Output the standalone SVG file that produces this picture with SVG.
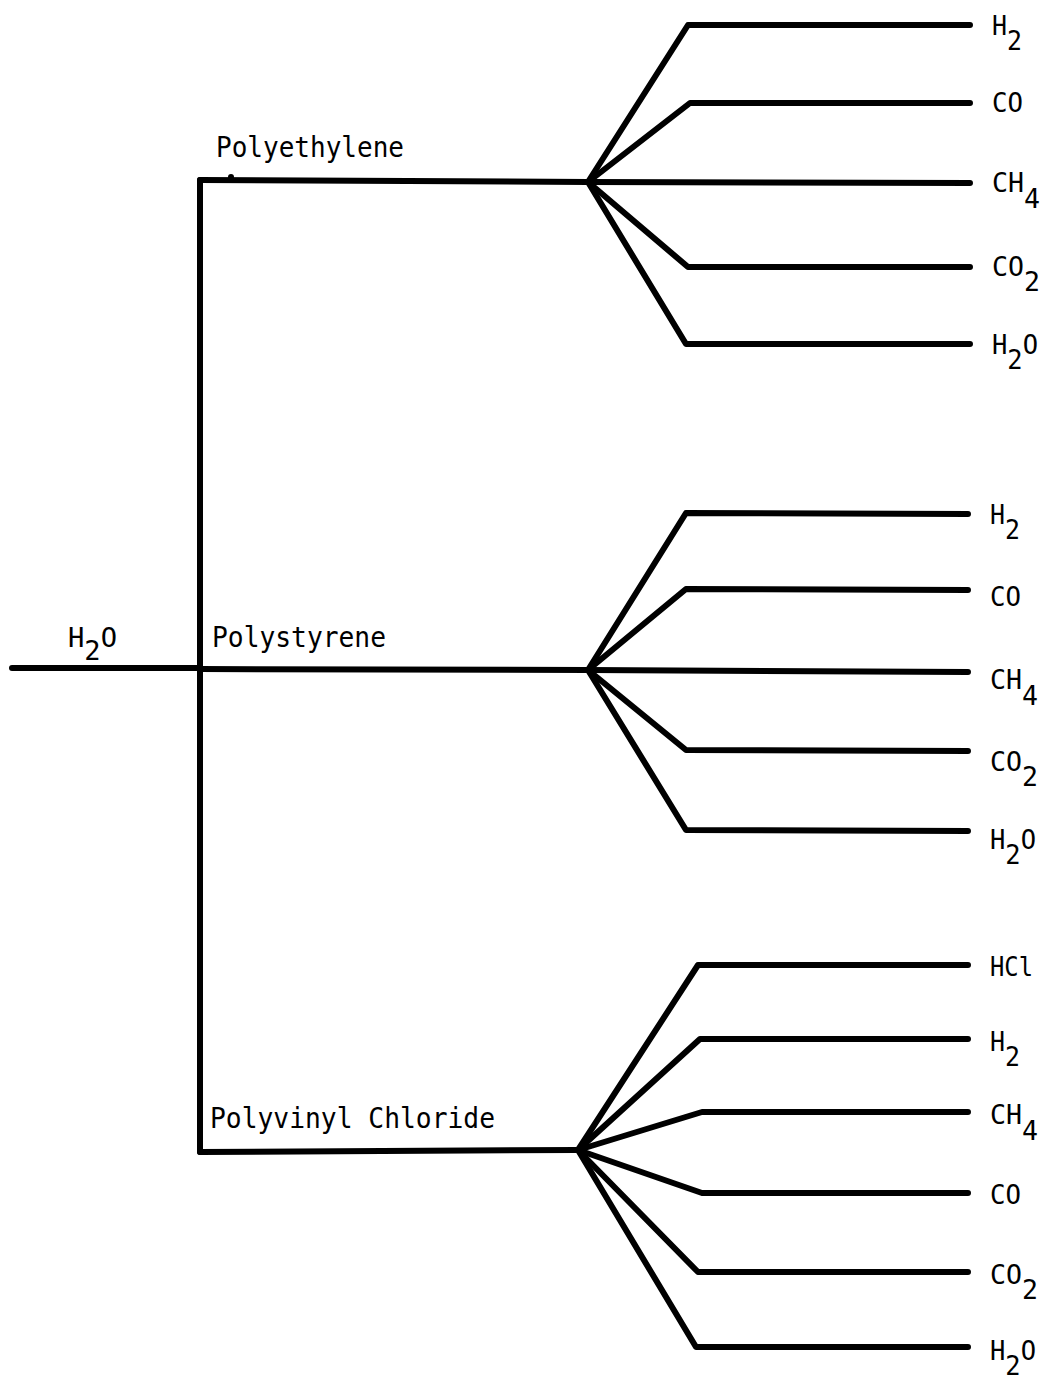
<svg xmlns="http://www.w3.org/2000/svg" width="1044" height="1382" viewBox="0 0 1044 1382">
  <style>
    .ln { fill: none; stroke: #000; stroke-width: 6; stroke-linecap: round; stroke-linejoin: round; }
    .poly { font-family: "DejaVu Sans Mono", "Liberation Mono", monospace; font-size: 28px; fill: #000; }
    .prod { font-family: "DejaVu Sans Mono", "Liberation Mono", monospace; font-size: 26px; fill: #000; }
    .feed { font-family: "DejaVu Sans Mono", "Liberation Mono", monospace; font-size: 26px; fill: #000; }
  </style>
  <rect width="1044" height="1382" fill="#fff"/>

  <!-- feed and polymer trunk lines -->
  <g id="connectors">
    <path class="ln" d="M12 668 L200 668"/>
    <path class="ln" d="M200 180 L200 1152"/>
    <path class="ln" d="M200 180 L588 182"/>
    <path class="ln" d="M200 669 L588 670"/>
    <path class="ln" d="M200 1152 L578 1150"/>
    <circle cx="231" cy="177" r="3" fill="#000"/>

    <!-- polyethylene products -->
    <polyline class="ln" points="588,182 688,25 970,25"/>
    <polyline class="ln" points="588,182 690,103 970,103"/>
    <polyline class="ln" points="588,182 970,183"/>
    <polyline class="ln" points="588,182 688,267 970,267"/>
    <polyline class="ln" points="588,182 686,344 970,344"/>

    <!-- polystyrene products -->
    <polyline class="ln" points="588,670 686,513 968,514"/>
    <polyline class="ln" points="588,670 686,589 968,590"/>
    <polyline class="ln" points="588,670 968,672"/>
    <polyline class="ln" points="588,670 686,750 968,751"/>
    <polyline class="ln" points="588,670 686,830 968,831"/>

    <!-- polyvinyl chloride products -->
    <polyline class="ln" points="578,1150 698,965 968,965"/>
    <polyline class="ln" points="578,1150 700,1039 968,1039"/>
    <polyline class="ln" points="578,1150 702,1112 968,1112"/>
    <polyline class="ln" points="578,1150 702,1193 968,1193"/>
    <polyline class="ln" points="578,1150 698,1272 968,1272"/>
    <polyline class="ln" points="578,1150 696,1347 968,1347"/>
  </g>

  <g id="feed">
    <text class="feed" x="68" y="647" textLength="49" lengthAdjust="spacingAndGlyphs">H<tspan dy="13">2</tspan><tspan dy="-13">O</tspan></text>
  </g>

  <g id="polyethylene">
    <text class="poly" x="216" y="157" textLength="188" lengthAdjust="spacingAndGlyphs">Polyethylene</text>
    <g class="prod">
      <text x="992" y="35" textLength="30" lengthAdjust="spacingAndGlyphs">H<tspan dy="15">2</tspan></text>
      <text x="992" y="112" textLength="31" lengthAdjust="spacingAndGlyphs">CO</text>
      <text x="992" y="192" textLength="48" lengthAdjust="spacingAndGlyphs">CH<tspan dy="16">4</tspan></text>
      <text x="992" y="276" textLength="48" lengthAdjust="spacingAndGlyphs">CO<tspan dy="15">2</tspan></text>
      <text x="992" y="354" textLength="46" lengthAdjust="spacingAndGlyphs">H<tspan dy="15">2</tspan><tspan dy="-15">O</tspan></text>
    </g>
  </g>

  <g id="polystyrene">
    <text class="poly" x="212" y="647" textLength="174" lengthAdjust="spacingAndGlyphs">Polystyrene</text>
    <g class="prod">
      <text x="990" y="524" textLength="30" lengthAdjust="spacingAndGlyphs">H<tspan dy="15">2</tspan></text>
      <text x="990" y="606" textLength="31" lengthAdjust="spacingAndGlyphs">CO</text>
      <text x="990" y="689" textLength="48" lengthAdjust="spacingAndGlyphs">CH<tspan dy="16">4</tspan></text>
      <text x="990" y="771" textLength="48" lengthAdjust="spacingAndGlyphs">CO<tspan dy="15">2</tspan></text>
      <text x="990" y="849" textLength="46" lengthAdjust="spacingAndGlyphs">H<tspan dy="15">2</tspan><tspan dy="-15">O</tspan></text>
    </g>
  </g>

  <g id="polyvinyl-chloride">
    <text class="poly" x="210" y="1128" textLength="285" lengthAdjust="spacingAndGlyphs">Polyvinyl Chloride</text>
    <g class="prod">
      <text x="990" y="976" textLength="43" lengthAdjust="spacingAndGlyphs">HCl</text>
      <text x="990" y="1051" textLength="30" lengthAdjust="spacingAndGlyphs">H<tspan dy="15">2</tspan></text>
      <text x="990" y="1124" textLength="48" lengthAdjust="spacingAndGlyphs">CH<tspan dy="16">4</tspan></text>
      <text x="990" y="1204" textLength="31" lengthAdjust="spacingAndGlyphs">CO</text>
      <text x="990" y="1284" textLength="48" lengthAdjust="spacingAndGlyphs">CO<tspan dy="15">2</tspan></text>
      <text x="990" y="1360" textLength="46" lengthAdjust="spacingAndGlyphs">H<tspan dy="15">2</tspan><tspan dy="-15">O</tspan></text>
    </g>
  </g>
</svg>
